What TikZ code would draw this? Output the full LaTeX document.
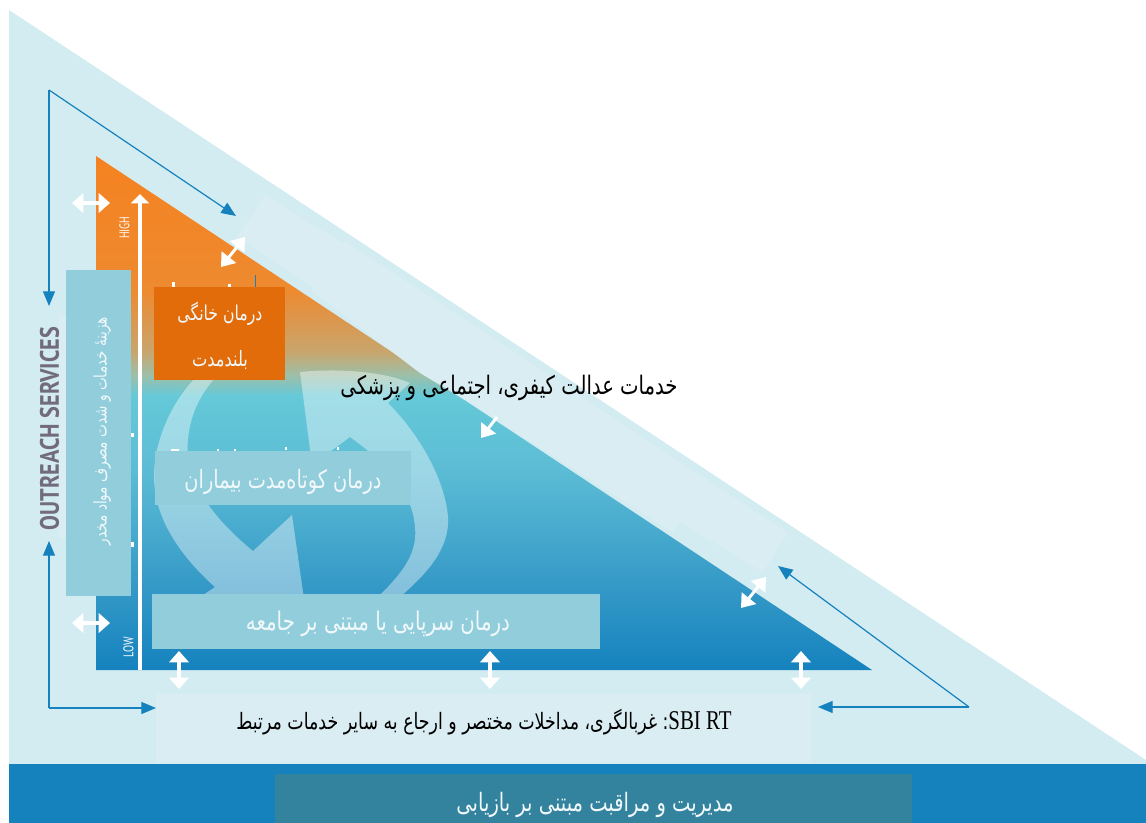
\documentclass[tikz,border=0pt]{standalone}
\usepackage{fontspec}
\usepackage{graphicx}
\usetikzlibrary{arrows.meta}
\TeXXeTstate=1
\newfontfamily\arabicfont[Script=Arabic]{DejaVu Sans}
\newfontfamily\sbifont{Liberation Serif}
\newfontfamily\capfont{PT Sans}
\newlength\pxu \pxu=.75pt
\newcommand\fawide[2]{\resizebox{#1\pxu}{!}{\scalebox{1}[1.3]{\arabicfont #2}}}
\definecolor{tbA}{HTML}{1582BE}
\definecolor{tbB}{HTML}{3398C6}
\definecolor{tbC}{HTML}{5CBCD5}
\definecolor{tbD}{HTML}{65C9D8}
\definecolor{tbE}{HTML}{9DBFA8}
\definecolor{tbF}{HTML}{C9A56C}
\definecolor{tbG}{HTML}{EE8A30}
\definecolor{tbH}{HTML}{F58220}
\pgfdeclareverticalshading{tribg}{100bp}{
 color(0bp)=(tbA);
 color(25bp)=(tbA);
 color(32.8bp)=(tbB);
 color(44.4bp)=(tbC);
 color(51.7bp)=(tbD);
 color(53.7bp)=(tbE);
 color(56bp)=(tbF);
 color(62bp)=(tbG);
 color(75bp)=(tbH);
 color(100bp)=(tbH)}
\definecolor{outerbg}{HTML}{D3ECF1}
\definecolor{bandbg}{HTML}{DAEDF3}
\definecolor{barblue}{HTML}{1582BE}
\definecolor{tealbox}{HTML}{92CDDC}
\definecolor{orangebox}{HTML}{E36C0A}
\definecolor{barbox}{HTML}{33829E}
\definecolor{capgrey}{HTML}{716B7D}
\definecolor{palewhite}{HTML}{F0F8FA}
\tikzset{
 boxst/.style={rectangle,inner sep=0pt,outer sep=0pt,draw=none},
 lab/.style={inner sep=0pt,outer sep=0pt},
 whitearrow/.style={draw=white,line width=3.6\pxu},
 dbl/.style={whitearrow,{Triangle[length=8.5pt,width=14.5pt]}-{Triangle[length=8.5pt,width=14.5pt]}},
 dgl/.style={whitearrow,line width=3\pxu,{Triangle[length=9.5pt,width=13.5pt]}-{Triangle[length=9.5pt,width=13.5pt]}},
 bluearrow/.style={draw=barblue,line width=1.2\pxu,-{Triangle[length=11pt,width=9pt,fill=barblue]}},
 swirl/.style={fill=white,fill opacity=.4,draw=none},
 speck/.style={fill=white,draw=none}
}
\begin{document}
\begin{tikzpicture}[x=.75pt,y=-.75pt]
\useasboundingbox (0,0) rectangle (1146,823);
\clip (0,0) rectangle (1146,823);
% outer triangle and bottom bar
\fill[outerbg] (9,10) -- (1146,760) -- (1146,764) -- (9,764) -- cycle;
\fill[barblue] (9,764) rectangle (1146,823);
% inner triangle
\path[shading=tribg,shading angle=0] (96,156) -- (872,670) -- (96,670) -- cycle;
% swirl arrows
\fill[swirl] (215,378) -- (195,378) .. controls (165,410) and (150,455) .. (155,490)
  .. controls (160,530) and (190,565) .. (215,587) -- (200,597) -- (305,606) -- (292,515) -- (253,551)
  .. controls (215,520) and (183,480) .. (188,440) .. controls (190,415) and (200,395) .. (215,378) -- cycle;
\fill[swirl] (300,372) .. controls (340,368) and (385,372) .. (410,383) -- (388,403)
  .. controls (420,435) and (445,480) .. (448,517) .. controls (450,550) and (425,575) .. (400,597)
  -- (378,597) .. controls (400,575) and (418,555) .. (415,527) .. controls (412,490) and (385,462) .. (350,437)
  -- (312,465) -- cycle;
% long light band
\fill[bandbg] (265,195) -- (342,243) -- (345,241) -- (788,533) -- (763,572) -- (680,522) -- (672,532)
  -- (470,403) -- (420,373) -- (312,291) -- (313,287) -- (237,237) -- cycle;
% residual marks
\fill[speck] (172,282) rectangle (175,287);
\fill[speck] (228,284) rectangle (231,287);
\fill[speck] (171,449) rectangle (179,451);
\fill[speck] (217,449) rectangle (219,451);
\fill[speck] (234,449) rectangle (236,451);
\fill[speck] (285,447) rectangle (287,450);
\fill[speck] (337,447) rectangle (339,450);
\fill[speck] (131,433) rectangle (134,437);
\fill[speck] (131,542) rectangle (134,547);
\coordinate (tickA) at (255,275);
\coordinate (tickB) at (255,287);
\draw[barblue,line width=.8\pxu] (tickA) -- (tickB);
% boxes
\node[boxst,fill=bandbg,minimum width=7\pxu,minimum height=223\pxu] (capback) at (62.5,426.5) {};
\node[boxst,fill=tealbox,minimum width=65\pxu,minimum height=326\pxu] (costbox) at (98.5,433) {};
\node[boxst,fill=orangebox,minimum width=131\pxu,minimum height=93\pxu] (homebox) at (219.5,333.5) {};
\node[boxst,fill=tealbox,minimum width=256\pxu,minimum height=54\pxu] (shortbox) at (283,478) {};
\node[boxst,fill=tealbox,minimum width=448\pxu,minimum height=55\pxu] (outbox) at (376,621.5) {};
\node[boxst,fill=bandbg,minimum width=655\pxu,minimum height=69\pxu] (sbibox) at (483.5,728.5) {};
\node[boxst,fill=barbox,minimum width=637\pxu,minimum height=50\pxu] (evalbox) at (593.5,798.5) {};
% labels
\node[lab,text=palewhite] (homeA) at (220,314) {\fawide{85}{\beginR درمان خانگی\endR}};
\node[lab,text=palewhite] (homeB) at (220,360) {\fawide{56}{\beginR بلندمدت\endR}};
\node[lab,text=palewhite] (shortl) at (283,482) {\fawide{197}{\beginR درمان کوتاه‌مدت بیماران\endR}};
\node[lab,text=palewhite] (outl) at (378,624) {\fawide{264}{\beginR درمان سرپایی یا مبتنی بر جامعه\endR}};
\node[lab,text=palewhite] (evall) at (595,805) {\fawide{277}{\beginR مدیریت و مراقبت مبتنی بر بازیابی\endR}};
\node[lab,text=black] (justice) at (509,388) {\fawide{337}{\beginR خدمات عدالت کیفری، اجتماعی و پزشکی\endR}};
\node[lab,text=black] (sbil) at (484,722) {\fawide{495}{\beginR\beginL{\sbifont\fontsize{12}{14}\selectfont SBI RT}\endL: غربالگری، مداخلات مختصر و ارجاع به سایر خدمات مرتبط\endR}};
\node[lab,text=palewhite,rotate=90] (costl) at (102,431) {\fawide{228}{\beginR هزینهٔ خدمات و شدت مصرف مواد مخدر\endR}};
\node[lab,text=capgrey,rotate=90] (capl) at (49.5,428.5) {\resizebox{203\pxu}{19\pxu}{\capfont\bfseries OUTREACH SERVICES}};
\node[lab,text=white,rotate=90] (high) at (124.5,228) {\resizebox{22\pxu}{10\pxu}{\capfont HIGH}};
\node[lab,text=white,rotate=90] (low) at (128.5,647) {\resizebox{20\pxu}{10\pxu}{\capfont LOW}};
% axis arrow
\coordinate (axisbot) at (140,670);
\coordinate (axistop) at (140,194);
\draw[whitearrow,line width=3.2\pxu,-{Triangle[length=7pt,width=13.5pt]}] (axisbot) -- (axistop);
% white double arrows
\coordinate (hAl) at (72,203); \coordinate (hAr) at (110,203);
\coordinate (hBl) at (72,623); \coordinate (hBr) at (110,623);
\draw[dbl] (hAl) -- (hAr);
\draw[dbl] (hBl) -- (hBr);
\coordinate (vAt) at (179,651); \coordinate (vAb) at (179,689);
\coordinate (vBt) at (490,651); \coordinate (vBb) at (490,689);
\coordinate (vCt) at (801,651); \coordinate (vCb) at (801,689);
\draw[dbl] (vAt) -- (vAb);
\draw[dbl] (vBt) -- (vBb);
\draw[dbl] (vCt) -- (vCb);
\coordinate (dAt) at (245,237); \coordinate (dAb) at (221,267);
\coordinate (dBt) at (766,577); \coordinate (dBb) at (741,608);
\draw[dgl] (dAt) -- (dAb);
\draw[dgl] (dBt) -- (dBb);
\coordinate (sAt) at (497,417); \coordinate (sAb) at (481,438);
\draw[whitearrow,line width=3\pxu,-{Triangle[length=9.5pt,width=13.5pt]}] (sAt) -- (sAb);
% blue arrows
\coordinate (cornTL) at (49,90);
\coordinate (tipDown) at (49,306);
\coordinate (tipDiag) at (236,216);
\coordinate (cornBL) at (49,708);
\coordinate (tipUp) at (49,541);
\coordinate (tipBox) at (156,708);
\coordinate (cornBR) at (969,707);
\coordinate (tipLeft) at (818,707);
\coordinate (tipUpDiag) at (778,566);
\draw[bluearrow] (cornTL) -- (tipDown);
\draw[bluearrow] (cornTL) -- (tipDiag);
\draw[bluearrow] (cornBL) -- (tipUp);
\draw[bluearrow] (cornBL) -- (tipBox);
\draw[bluearrow] (cornBR) -- (tipLeft);
\draw[bluearrow] (cornBR) -- (tipUpDiag);
\end{tikzpicture}
\end{document}
